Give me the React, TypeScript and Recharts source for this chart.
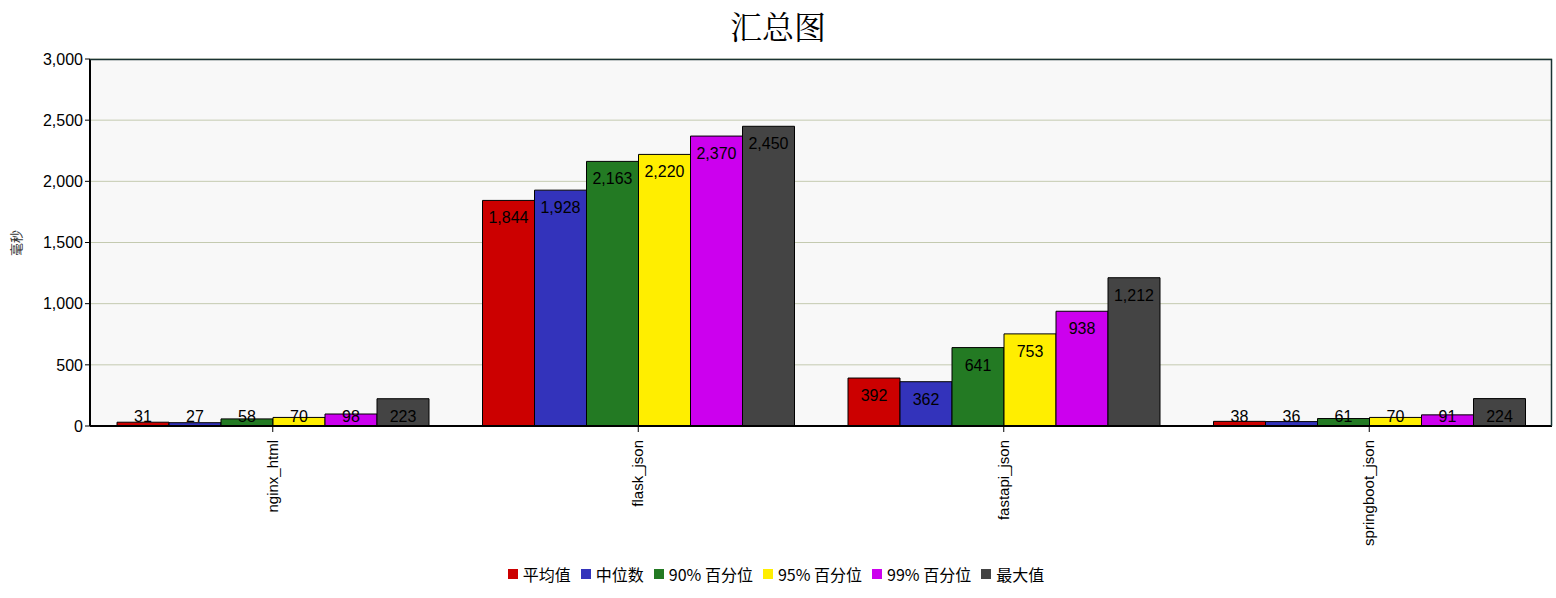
import { BarChart, Bar, XAxis, YAxis, CartesianGrid, Legend } from "recharts";

const categories = ["nginx_html", "flask_json", "fastapi_json", "springboot_json"];
const avgValues = [31, 1844, 392, 38];
const medianValues = [27, 1928, 362, 36];
const p90Values = [58, 2163, 641, 61];
const p95Values = [70, 2220, 753, 70];
const p99Values = [98, 2370, 938, 91];
const maxValues = [223, 2450, 1212, 224];
const yTicks = [0, 500, 1000, 1500, 2000, 2500, 3000];

const SERIES = [
  { key: "avg", name: "平均值", values: avgValues, color: "#CC0000" },
  { key: "median", name: "中位数", values: medianValues, color: "#3333BB" },
  { key: "p90", name: "90% 百分位", values: p90Values, color: "#237A23" },
  { key: "p95", name: "95% 百分位", values: p95Values, color: "#FFEE00" },
  { key: "p99", name: "99% 百分位", values: p99Values, color: "#CC00EE" },
  { key: "max", name: "最大值", values: maxValues, color: "#444444" },
];

const data = categories.map((name, i) => {
  const row: Record<string, string | number> = { name };
  SERIES.forEach((s) => (row[s.key] = s.values[i]));
  return row;
});

const FONT = "'Liberation Sans', Arial, sans-serif";
const CJK = "'Noto Sans CJK SC', sans-serif";

function ValueLabel(props: any) {
  const { x, y, width, height, value } = props;
  const ty = Math.min(y + 23, y + height - 4);
  return (
    <text x={x + width / 2} y={ty} textAnchor="middle" fontSize={16} fontFamily={FONT} fill="#000">
      {Number(value).toLocaleString("en-US")}
    </text>
  );
}

function XTick(props: any) {
  const { x, y, payload } = props;
  return (
    <text
      x={x}
      y={y}
      transform={`rotate(-90, ${x}, ${y})`}
      dx={-6}
      dy={5}
      textAnchor="end"
      fontSize={15}
      fontFamily={FONT}
      fill="#000"
    >
      {payload.value}
    </text>
  );
}

function YTitle() {
  return (
    <text
      x={15}
      y={243}
      transform="rotate(-90, 15, 243)"
      textAnchor="middle"
      dominantBaseline="central"
      fontSize={13}
      fontFamily={CJK}
      fill="#333"
    >
      毫秒
    </text>
  );
}

function LegendContent() {
  return (
    <div style={{ display: "flex", justifyContent: "center", gap: 10, fontSize: 16, fontFamily: CJK, color: "#000" }}>
      {SERIES.map((s) => (
        <span key={s.key} style={{ display: "flex", alignItems: "center" }}>
          <span style={{ width: 10, height: 10, background: s.color, marginRight: 5, display: "inline-block" }} />
          {s.name}
        </span>
      ))}
    </div>
  );
}

export default function App() {
  return (
    <div style={{ position: "absolute", left: 0, top: 0, width: 1556, height: 598, background: "#fff" }}>
      <div
        style={{
          position: "absolute",
          top: 2,
          width: 1556,
          textAlign: "center",
          fontSize: 32,
          fontFamily: "'Noto Serif CJK SC', " + CJK,
          color: "#000",
        }}
      >
        汇总图
      </div>
      <BarChart
        width={1556}
        height={598}
        data={data}
        margin={{ top: 59, right: 4, left: 0, bottom: 3 }}
        barCategoryGap={27}
        barGap={0}
      >
        <CartesianGrid vertical={false} stroke="#C4CAB0" fill="#F8F8F8" />
        <XAxis
          dataKey="name"
          height={136}
          interval={0}
          tick={<XTick />}
          axisLine={{ stroke: "#000", strokeWidth: 2 }}
          tickLine={{ stroke: "#000" }}
          tickSize={6}
        />
        <YAxis
          width={90}
          domain={[0, 3000]}
          ticks={yTicks}
          tickFormatter={(v: number) => v.toLocaleString("en-US")}
          tick={{ fontSize: 16, fontFamily: FONT, fill: "#000" }}
          axisLine={{ stroke: "#000", strokeWidth: 2 }}
          tickLine={{ stroke: "#000" }}
          tickSize={5}
          label={{ content: <YTitle /> }}
        />
        <Legend verticalAlign="bottom" height={33} content={<LegendContent />} />
        {SERIES.map((s) => (
          <Bar
            key={s.key}
            dataKey={s.key}
            name={s.name}
            fill={s.color}
            stroke="#000"
            strokeWidth={1}
            isAnimationActive={false}
            label={<ValueLabel />}
          />
        ))}
      </BarChart>
      <svg style={{ position: "absolute", left: 0, top: 0, pointerEvents: "none" }} width={1556} height={598}>
        <path d="M90 59.5 H1551.5 V426" fill="none" stroke="#1A3333" strokeWidth={1.5} />
      </svg>
    </div>
  );
}
